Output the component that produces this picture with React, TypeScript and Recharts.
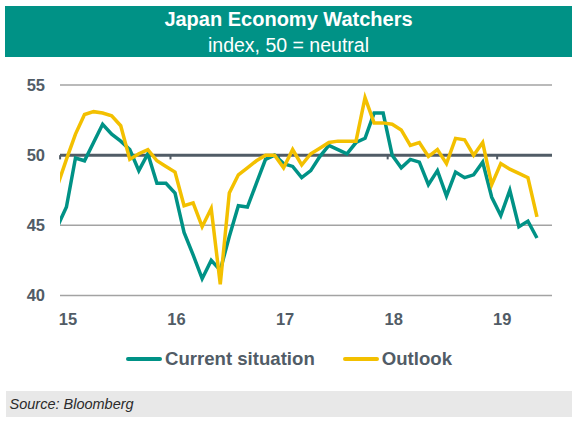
import React from 'react';
import { LineChart, Line, XAxis, YAxis, CartesianGrid, ReferenceLine, Legend } from 'recharts';

const months = [
  'Dec-14',
  'Jan-15', 'Feb-15', 'Mar-15', 'Apr-15', 'May-15', 'Jun-15', 'Jul-15', 'Aug-15', 'Sep-15', 'Oct-15', 'Nov-15', 'Dec-15',
  'Jan-16', 'Feb-16', 'Mar-16', 'Apr-16', 'May-16', 'Jun-16', 'Jul-16', 'Aug-16', 'Sep-16', 'Oct-16', 'Nov-16', 'Dec-16',
  'Jan-17', 'Feb-17', 'Mar-17', 'Apr-17', 'May-17', 'Jun-17', 'Jul-17', 'Aug-17', 'Sep-17', 'Oct-17', 'Nov-17', 'Dec-17',
  'Jan-18', 'Feb-18', 'Mar-18', 'Apr-18', 'May-18', 'Jun-18', 'Jul-18', 'Aug-18', 'Sep-18', 'Oct-18', 'Nov-18', 'Dec-18',
  'Jan-19', 'Feb-19', 'Mar-19', 'Apr-19', 'May-19',
];

const currentSituation = [
  44.9,
  46.3, 49.8, 49.6, 50.9, 52.2, 51.5, 51.0, 50.4, 48.9, 50.1, 48.0, 48.0,
  47.3, 44.5, 42.9, 41.2, 42.5, 41.8, 44.2, 46.4, 46.3, 48.0, 49.7, 50.0,
  49.4, 49.2, 48.4, 48.9, 49.9, 50.7, 50.4, 50.1, 50.9, 51.2, 53.0, 53.0,
  50.0, 49.1, 49.7, 49.5, 47.9, 48.9, 47.1, 48.8, 48.4, 48.6, 49.5, 47.0,
  45.7, 47.5, 44.9, 45.3, 44.1,
];

const outlook = [
  47.8,
  49.7, 51.5, 52.9, 53.1, 53.0, 52.8, 52.1, 49.7, 50.1, 50.4, 49.6, 49.2,
  48.8, 46.4, 46.6, 44.9, 46.2, 40.8, 47.3, 48.6, 49.1, 49.6, 50.0, 50.0,
  49.1, 50.4, 49.3, 50.1, 50.5, 50.9, 51.0, 51.0, 51.0, 54.1, 52.3, 52.3,
  52.2, 51.8, 50.7, 50.9, 49.9, 50.4, 49.4, 51.2, 51.1, 50.0, 50.9, 47.9,
  49.4, 49.0, 48.7, 48.4, 45.6,
];

const yearTickIndex = [1, 13, 25, 37, 49];
const yearLabels = ['15', '16', '17', '18', '19'];
const yearBoundaries = [0.3, 12.5, 24.5, 36.5, 48.6];
const yTicks = [40, 45, 50, 55];

const data = months.map((m, i) => ({
  idx: i,
  month: m,
  current: currentSituation[i],
  outlook: outlook[i],
}));

const TEAL = '#009286';
const YELLOW = '#f3c000';
const SLATE = '#515c66';
const GRID = '#a3a3a3';
const FONT = '"Liberation Sans", Arial, Helvetica, sans-serif';

const LegendContent = (props: any) => {
  const payload = props.payload || [];
  return (
    <div style={{ display: 'flex', justifyContent: 'center', alignItems: 'center', fontFamily: FONT }}>
      {payload.map((p: any, k: number) => (
        <div key={k} style={{ display: 'flex', alignItems: 'center', marginLeft: k === 0 ? 0 : 28 }}>
          <div style={{ width: 36, height: 4, background: p.color, borderRadius: 2, marginRight: 3 }} />
          <span style={{ fontSize: 18.6, fontWeight: 'bold', color: SLATE, lineHeight: '18px' }}>{p.value}</span>
        </div>
      ))}
    </div>
  );
};

export default function App() {
  return (
    <div style={{ position: 'absolute', left: 0, top: 0, width: 580, height: 426, background: '#fff', overflow: 'hidden', fontFamily: FONT }}>
      <div style={{ position: 'absolute', left: 5, top: 6, width: 567, height: 51, background: TEAL }}>
        <div style={{ position: 'absolute', left: 0, width: 567, top: 3.3, textAlign: 'center', color: '#fff', fontWeight: 'bold', fontSize: 20, lineHeight: '20px' }}>
          Japan Economy Watchers
        </div>
        <div style={{ position: 'absolute', left: 0, width: 567, top: 29.8, textAlign: 'center', color: '#fff', fontSize: 19.5, lineHeight: '19.5px' }}>
          index, 50 = neutral
        </div>
      </div>
      <div style={{ position: 'absolute', left: 0, top: 0 }}>
        <LineChart width={580} height={426} data={data} margin={{ top: 85, right: 28, bottom: 100.5, left: 0 }}>
          <CartesianGrid vertical={false} stroke={GRID} strokeWidth={1.5} />
          <XAxis
            dataKey="idx"
            type="number"
            domain={[0.29, 54.66]}
            allowDataOverflow
            ticks={yearTickIndex}
            tickFormatter={(v: number) => yearLabels[yearTickIndex.indexOf(v)] ?? ''}
            axisLine={false}
            tickLine={false}
            tickSize={0}
            tickMargin={17.5}
            height={30}
            dx={1.5}
            tick={{ fontSize: 16.5, fontWeight: 'bold', fill: SLATE, fontFamily: FONT }}
          />
          <YAxis
            domain={[40, 55]}
            ticks={yTicks}
            axisLine={false}
            tickLine={false}
            tickSize={0}
            tickMargin={15}
            width={60}
            tick={{ fontSize: 16.5, fontWeight: 'bold', fill: SLATE, fontFamily: FONT }}
          />
          <ReferenceLine y={50} stroke={SLATE} strokeWidth={3} />
          {yearBoundaries.map((b) => (
            <ReferenceLine
              key={b}
              segment={[{ x: b, y: 50 }, { x: b, y: 49.7 }]}
              stroke={SLATE}
              strokeWidth={2}
            />
          ))}
          <Line
            type="linear"
            dataKey="current"
            name="Current situation"
            stroke={TEAL}
            strokeWidth={3.5}
            dot={false}
            activeDot={false}
            isAnimationActive={false}
          />
          <Line
            type="linear"
            dataKey="outlook"
            name="Outlook"
            stroke={YELLOW}
            strokeWidth={3.5}
            dot={false}
            activeDot={false}
            isAnimationActive={false}
          />
          <Legend
            layout="horizontal"
            verticalAlign="middle"
            align="center"
            content={LegendContent}
            wrapperStyle={{ top: 350, left: 0, width: 578, height: 20 }}
          />
        </LineChart>
      </div>
      <div style={{ position: 'absolute', left: 6, top: 391, width: 566, height: 26, background: '#e8e8e8' }}>
        <div style={{ position: 'absolute', left: 3.5, top: 5.5, fontSize: 14.5, lineHeight: '14.5px', fontStyle: 'italic', color: '#2b2b2b' }}>
          Source: Bloomberg
        </div>
      </div>
    </div>
  );
}
